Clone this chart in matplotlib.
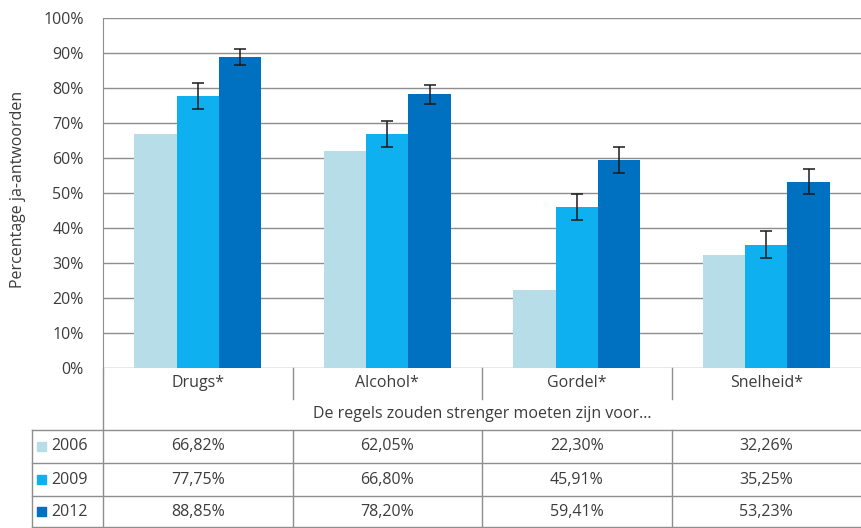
import matplotlib.pyplot as plt
from matplotlib.lines import Line2D
from matplotlib.patches import Rectangle
from matplotlib.transforms import blended_transform_factory
import numpy as np

categories = ['Drugs*', 'Alcohol*', 'Gordel*', 'Snelheid*']
years = ['2006', '2009', '2012']
vals_2006 = [66.82, 62.05, 22.30, 32.26]
vals_2009 = [77.75, 66.80, 45.91, 35.25]
vals_2012 = [88.85, 78.20, 59.41, 53.23]
err_2009 = [3.8, 3.7, 3.7, 3.8]
err_2012 = [2.4, 2.65, 3.7, 3.5]
colors = ['#b7dde8', '#0fb0ef', '#0070c0']
xlabel = 'De regels zouden strenger moeten zijn voor...'
ylabel = 'Percentage ja-antwoorden'

W, H = 861, 528
TXT = '#3c3c3c'
GRID = '#8e8e8e'
plt.rcParams['font.family'] = ['Open Sans', 'DejaVu Sans']
plt.rcParams['font.size'] = 11.5

fig = plt.figure(figsize=(W / 100, H / 100), dpi=100)
ax = fig.add_axes([103 / W, 1 - 368 / H, (W - 103) / W, 350 / H])

series = [vals_2006, vals_2009, vals_2012]
errors = [None, err_2009, err_2012]
x = np.arange(len(categories))
width = 0.223
for k, (vals, err) in enumerate(zip(series, errors)):
    pos = x + (k - 1) * width
    ax.bar(pos, vals, width, color=colors[k], zorder=2)
    if err is not None:
        ax.errorbar(pos, vals, yerr=err, fmt='none', ecolor='#1a1a1a',
                    elinewidth=1.1, capsize=4.5, capthick=1.1, zorder=3)

ax.set_xlim(-0.5, len(categories) - 0.5)
ax.set_ylim(0, 100)
ax.set_yticks(np.arange(0, 101, 10))
ax.set_yticklabels([f'{t}%' for t in range(0, 101, 10)], color=TXT)
ax.yaxis.grid(True, color=GRID, lw=1)
ax.set_axisbelow(True)
ax.tick_params(axis='y', length=0, pad=14)
ax.set_xticks([])
for s in ['top', 'right', 'bottom']:
    ax.spines[s].set_visible(False)
ax.spines['left'].set_color(GRID)
fig.text(18 / W, 1 - 189 / H, ylabel, rotation=90, ha='center',
         va='center', color=TXT)


# table under the plot
def fx(px):
    return px / W


def fy(py):
    return 1 - py / H


ft = fig.transFigure
bt = blended_transform_factory(ax.transData, ft)
line_kw = dict(color=GRID, lw=1)

# category row
for i, cat in enumerate(categories):
    fig.text(i, fy(383), cat, transform=bt, ha='center', va='center',
             color=TXT)
for b in x[:-1] + 0.5:
    fig.add_artist(Line2D([b, b], [fy(368), fy(399)], transform=bt,
                          **line_kw))
fig.add_artist(Line2D([fx(103), fx(103)], [fy(368), fy(528)],
                      transform=ft, **line_kw))
fig.text(1.5, fy(414), xlabel, transform=bt, ha='center', va='center',
         color=TXT)

# data rows
row_tops = [430, 463, 496, 527]
for r in row_tops:
    fig.add_artist(Line2D([fx(32), fx(W)], [fy(r), fy(r)], transform=ft,
                          **line_kw))
fig.add_artist(Line2D([fx(32), fx(32)], [fy(430), fy(528)], transform=ft,
                      **line_kw))
for b in x[:-1] + 0.5:
    fig.add_artist(Line2D([b, b], [fy(430), fy(528)], transform=bt,
                          **line_kw))
for k, (year, vals) in enumerate(zip(years, series)):
    yc = (row_tops[k] + row_tops[k + 1]) / 2
    fig.add_artist(Rectangle((fx(37), fy(yc + 4.5)), 9 / W, 9 / H,
                             transform=ft, color=colors[k]))
    fig.text(fx(51), fy(yc), year, transform=ft, ha='left', va='center',
             color=TXT)
    for i, v in enumerate(vals):
        label = f'{v:.2f}'.replace('.', ',') + '%'
        fig.text(i, fy(yc), label, transform=bt, ha='center', va='center',
                 color=TXT)

fig.savefig('out.png', dpi=100)
